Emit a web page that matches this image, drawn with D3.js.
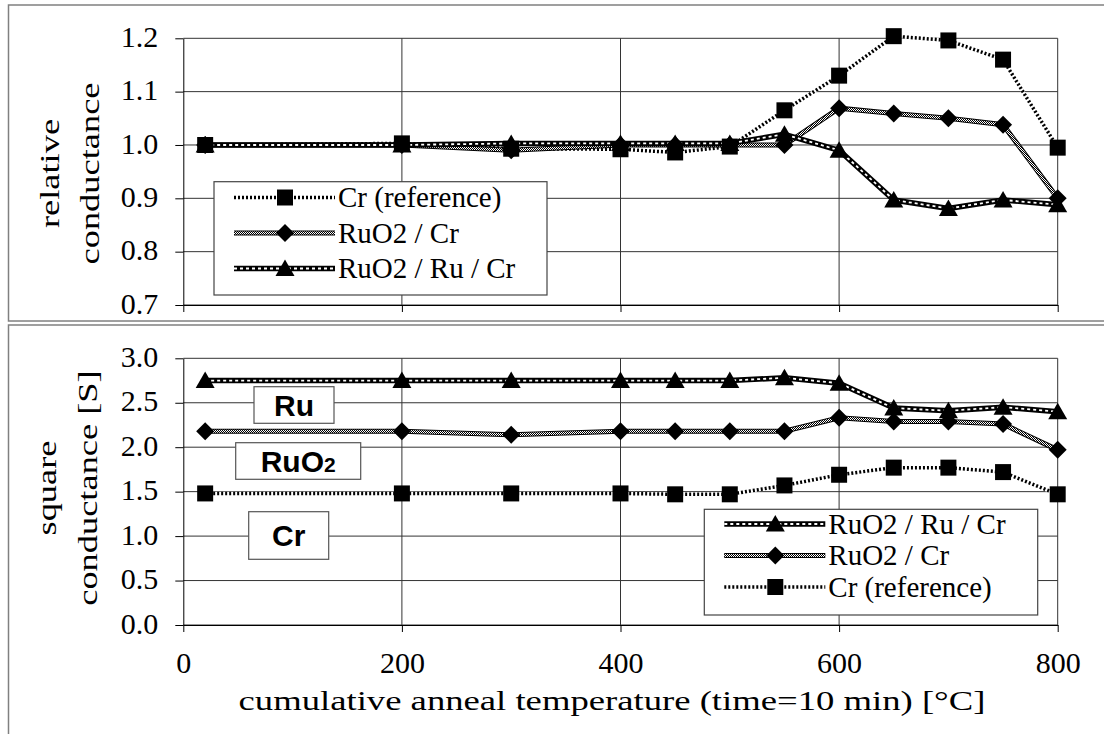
<!DOCTYPE html>
<html>
<head>
<meta charset="utf-8">
<script src="https://cdn.jsdelivr.net/npm/d3@7"></script>
<style>
  body { margin: 0; background: #fff; }
  svg { display: block; }
  text { font-family: "Liberation Serif", "Times New Roman", serif; fill: #000; }
  .tag { font-family: "Liberation Sans", Arial, sans-serif; font-weight: bold; }
</style>
</head>
<body>
<svg id="chart"></svg>
<script>
// anneal steps (cumulative temperature, degC)
const temps = [20, 200, 300, 400, 450, 500, 550, 600, 650, 700, 750, 800];

// top panel: relative conductance
const relCr       = [1.000, 1.003, 0.993, 0.992, 0.986, 0.997, 1.065, 1.130, 1.204, 1.196, 1.160, 0.995];
const relRuO2Cr   = [1.000, 1.000, 0.990, 1.000, 1.000, 1.000, 1.000, 1.069, 1.059, 1.050, 1.038, 0.900];
const relRuO2RuCr = [1.000, 1.000, 1.003, 1.003, 1.003, 1.003, 1.020, 0.990, 0.897, 0.881, 0.897, 0.888];

// bottom panel: square conductance [S]
const sqCr       = [1.48, 1.48, 1.48, 1.48, 1.47, 1.47, 1.57, 1.69, 1.77, 1.77, 1.72, 1.47];
const sqRuO2Cr   = [2.18, 2.18, 2.14, 2.18, 2.18, 2.18, 2.18, 2.33, 2.29, 2.29, 2.26, 1.97];
const sqRuO2RuCr = [2.75, 2.75, 2.75, 2.75, 2.75, 2.75, 2.78, 2.72, 2.44, 2.41, 2.45, 2.40];

const seriesNames = ["Cr (reference)", "RuO2 / Cr", "RuO2 / Ru / Cr"];
const xTicks = [0, 200, 400, 600, 800];
const relTicks = [0.7, 0.8, 0.9, 1.0, 1.1, 1.2];
const sqTicks = [0, 0.5, 1.0, 1.5, 2.0, 2.5, 3.0];

const W = 1104, H = 734;
const svg = d3.select("#chart").attr("width", W).attr("height", H);

// line patterns
const defs = svg.append("defs");
const checker = defs.append("pattern").attr("id", "checker")
    .attr("width", 2).attr("height", 2).attr("patternUnits", "userSpaceOnUse");
checker.append("rect").attr("width", 2).attr("height", 2).attr("fill", "#fff");
checker.append("rect").attr("width", 1).attr("height", 1).attr("fill", "#000");
checker.append("rect").attr("x", 1).attr("y", 1).attr("width", 1).attr("height", 1).attr("fill", "#000");

const x = d3.scaleLinear().domain([0, 800]).range([183.3, 1057.7]);

// marker shapes (excel style)
const markers = {
  square: "M-8,-8H8V8H-8Z",
  diamond: "M0,-9L9,0L0,9L-9,0Z",
  triangle: "M0,-9L9.5,7.5L-9.5,7.5Z"
};

function drawLine(g, pts, style) {
  const path = d3.line().x(d => d[0]).y(d => d[1]);
  const add = () => g.append("path").attr("d", path(pts)).attr("fill", "none");
  if (style === "cr") {
    add().attr("stroke", "#fff").attr("stroke-width", 3.5);
    add().attr("stroke", "#000").attr("stroke-width", 3.5).attr("stroke-dasharray", "2,2");
  } else if (style === "ruo2") {
    add().attr("stroke", "#000").attr("stroke-width", 5);
    add().attr("stroke", "url(#checker)").attr("stroke-width", 3);
  } else {
    add().attr("stroke", "#000").attr("stroke-width", 5.5).attr("stroke-linejoin", "round");
    add().attr("stroke", "#fff").attr("stroke-width", 1.8).attr("stroke-dasharray", "3,3");
  }
}

function drawPanel(cfg) {
  const y = d3.scaleLinear().domain(cfg.domain).range([cfg.bottom, cfg.top]);
  const g = svg.append("g");

  // outer chart frame
  g.append("rect").attr("x", 8.5).attr("y", cfg.frame[0]).attr("width", 1110).attr("height", cfg.frame[1])
    .attr("fill", "none").attr("stroke", "#808080").attr("stroke-width", 1.5);

  // grid
  g.selectAll(".hgrid").data(cfg.ticks).join("line")
    .attr("x1", x(0)).attr("x2", x(800)).attr("y1", d => y(d)).attr("y2", d => y(d))
    .attr("stroke", "#333").attr("stroke-width", 1);
  g.selectAll(".vgrid").data(xTicks.slice(1)).join("line")
    .attr("x1", d => x(d)).attr("x2", d => x(d)).attr("y1", cfg.top).attr("y2", cfg.bottom)
    .attr("stroke", "#333").attr("stroke-width", 1);

  // axes
  const yAxis = d3.axisLeft(y).tickValues(cfg.ticks).tickFormat(d3.format(".1f"))
    .tickSize(8).tickSizeOuter(0).tickPadding(17);
  const yG = g.append("g").attr("transform", `translate(${x(0)},0)`).call(yAxis);
  yG.selectAll("text").attr("font-size", 30).attr("dy", "0.27em")
    .attr("font-family", "'Liberation Serif', 'Times New Roman', serif");

  const xAxis = d3.axisBottom(x).tickValues(xTicks).tickSize(7).tickSizeOuter(0).tickPadding(20)
    .tickFormat(cfg.xLabels ? d3.format("d") : "");
  const xG = g.append("g").attr("transform", `translate(0,${cfg.bottom})`).call(xAxis);
  xG.selectAll("text").attr("font-size", 30)
    .attr("font-family", "'Liberation Serif', 'Times New Roman', serif");
  g.selectAll(".domain").attr("stroke", "#000");
  g.selectAll(".tick line").attr("stroke", "#000");

  // y title, drawn a bit wide like the original
  cfg.title.forEach((t, i) => {
    g.append("text")
      .attr("transform", `translate(${cfg.titleX[i]},${cfg.titleY}) rotate(-90) scale(1.3,1)`)
      .attr("text-anchor", "middle").attr("font-size", 28).text(t);
  });

  // series
  const series = cfg.series.map((vals, i) => ({
    name: seriesNames[i], style: ["cr", "ruo2", "ruru"][i],
    marker: ["square", "diamond", "triangle"][i],
    pts: temps.map((t, j) => [x(t), y(vals[j])])
  }));
  series.forEach(s => drawLine(g, s.pts, s.style));
  series.forEach(s => {
    g.append("g").selectAll("path").data(s.pts).join("path")
      .attr("d", markers[s.marker]).attr("fill", "#000")
      .attr("transform", d => `translate(${d[0]},${d[1]})`);
  });

  // legend
  const lg = cfg.legend;
  g.append("rect").attr("x", lg.x).attr("y", lg.y).attr("width", lg.w).attr("height", lg.h)
    .attr("fill", "#fff").attr("stroke", "#444").attr("stroke-width", 1.2);
  lg.order.forEach((si, r) => {
    const s = series[si];
    const ry = lg.rowY + r * lg.gap;
    drawLine(g, [[lg.x + 20, ry], [lg.x + 121, ry]], s.style);
    g.append("path").attr("d", markers[s.marker]).attr("fill", "#000")
      .attr("transform", `translate(${lg.x + 71},${ry})`);
    g.append("text").attr("x", lg.x + 124).attr("y", ry + 9.5).attr("font-size", 29).text(s.name);
  });
  return g;
}

drawPanel({
  domain: [0.7, 1.2], top: 38.3, bottom: 305, frame: [5, 316], ticks: relTicks, xLabels: false,
  title: ["relative", "conductance"], titleX: [59, 99], titleY: 173.5,
  series: [relCr, relRuO2Cr, relRuO2RuCr],
  legend: { x: 214, y: 181.7, w: 333, h: 113.3, rowY: 197.5, gap: 35.5, order: [0, 1, 2] }
});

const bottomPanel = drawPanel({
  domain: [0, 3], top: 358.3, bottom: 625, frame: [325, 420], ticks: sqTicks, xLabels: true,
  title: ["square", "conductance [S]"], titleX: [56, 97], titleY: 488,
  series: [sqCr, sqRuO2Cr, sqRuO2RuCr],
  legend: { x: 704.3, y: 509.3, w: 333.4, h: 105.7, rowY: 524, gap: 31.5, order: [2, 1, 0] }
});

// layer tags in the bottom panel
const tags = [
  { x: 254, y: 386.7, w: 80, h: 36.6, parts: [["Ru", 30]] },
  { x: 235.7, y: 442.7, w: 125, h: 36.6, parts: [["RuO", 30], ["2", 21]] },
  { x: 248.7, y: 511.7, w: 80, h: 47.6, parts: [["Cr", 30]] }
];
tags.forEach(t => {
  bottomPanel.append("rect").attr("x", t.x).attr("y", t.y).attr("width", t.w).attr("height", t.h)
    .attr("fill", "#fff").attr("stroke", "#555").attr("stroke-width", 1.2);
  const txt = bottomPanel.append("text").attr("class", "tag")
    .attr("x", t.x + t.w / 2).attr("y", t.y + t.h / 2 + 10.5).attr("text-anchor", "middle");
  t.parts.forEach(p => txt.append("tspan").attr("font-size", p[1]).text(p[0]));
});

// x title
svg.append("text")
  .attr("transform", "translate(612,710) scale(1.31,1)")
  .attr("text-anchor", "middle").attr("font-size", 28)
  .text("cumulative anneal temperature (time=10 min) [°C]");
</script>
</body>
</html>
